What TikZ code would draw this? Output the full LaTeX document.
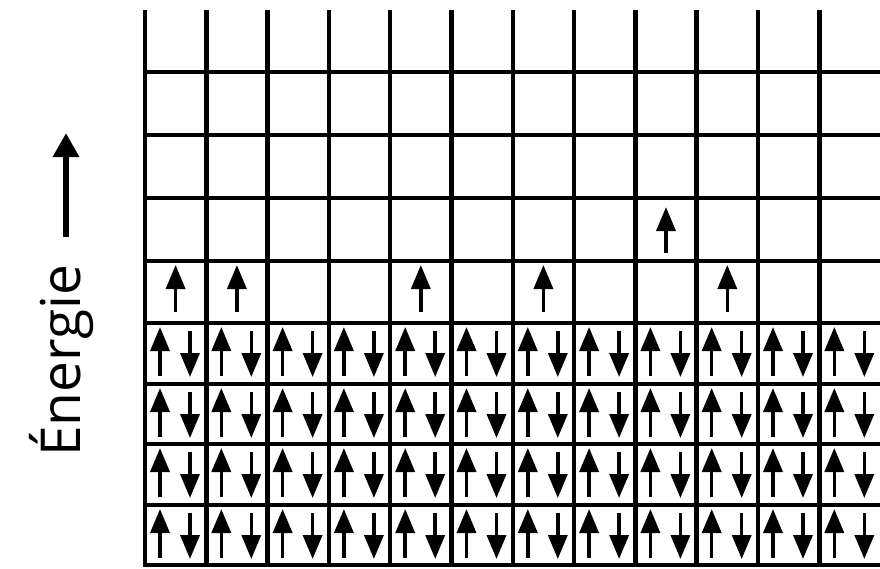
\documentclass[tikz,border=0pt]{standalone}
\usepackage{fontspec}
\newfontfamily\labelfont{Open Sans}
\usetikzlibrary{arrows.meta}
\begin{document}
\begin{tikzpicture}[x=1pt,y=-1pt,
  gridline/.style={line width=4.5pt},
  spin/.style={line width=3.5pt,-{Triangle[length=24pt,width=19pt]}},
  energyarrow/.style={line width=6pt,-{Triangle[length=24pt,width=25pt]}},
  energylabel/.style={rotate=90,anchor=base west,inner sep=0pt,font={\labelfont\fontsize{55pt}{55pt}\selectfont}}]
\useasboundingbox (0,0) rectangle (880,568);
\clip (0,0) rectangle (880,568);
% grid
\foreach \i in {0,...,11}
  \draw[gridline] ({145+61.3*\i},10) -- ({145+61.3*\i},565);
\foreach \y in {72,135,198,261,323,384,444,505,565}
  \draw[gridline] (142.75,\y) -- (884,\y);
% paired spins
\foreach \r in {323,384,444,505}
  \foreach \i in {0,...,11} {
    \draw[spin] ({145+61.3*\i+15},{\r+53}) -- ({145+61.3*\i+15},{\r+4});
    \draw[spin] ({145+61.3*\i+45},{\r+8}) -- ({145+61.3*\i+45},{\r+54});
  }
% single spins
\foreach \c in {0,1,4,6,9}
  \draw[spin] ({145+61.3*\c+30.6},312) -- ({145+61.3*\c+30.6},265);
\draw[spin] (666,253) -- (666,207);
% energy axis
\coordinate (eb) at (66,237);
\coordinate (et) at (66,133);
\draw[energyarrow] (eb) -- (et);
\node[energylabel] (lbl) at (80,457) {Énergie};
\end{tikzpicture}
\end{document}
